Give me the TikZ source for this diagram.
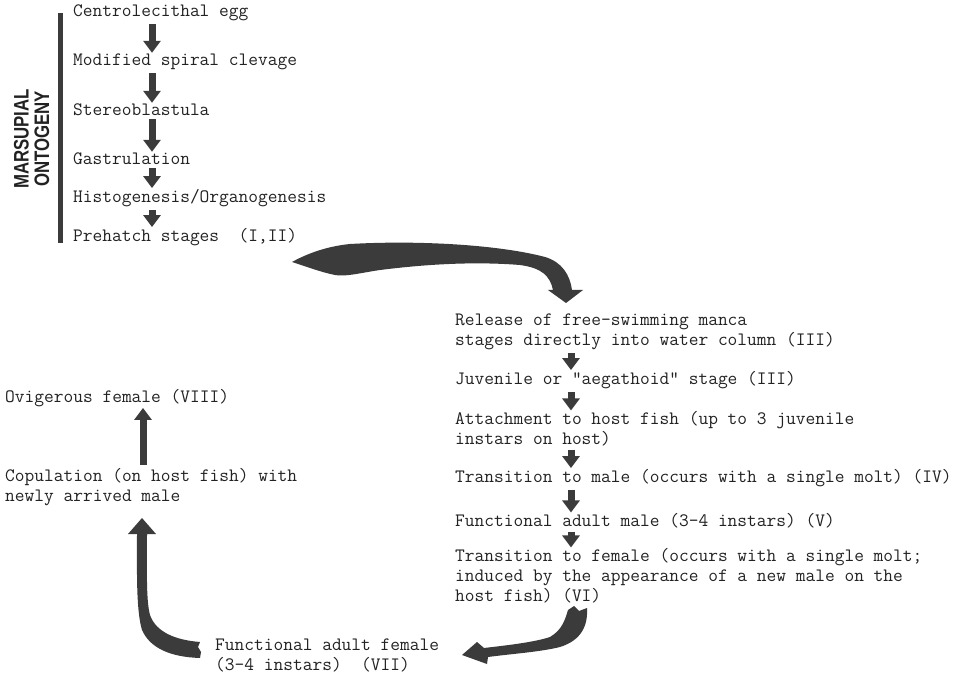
\documentclass[tikz,border=0pt]{standalone}
\usepackage{fontspec}
\usepackage{xcolor}
\usetikzlibrary{arrows.meta}
\newfontfamily\headfont{Liberation Sans}
\definecolor{ink}{HTML}{222222}
\definecolor{arrowgrey}{HTML}{3B3B3B}
\tikzset{
  stage/.style={anchor=west, align=left, inner sep=0pt, text=ink, font={\ttfamily\fontsize{18.9}{20}\selectfont}},
  stagearrow/.style={draw=arrowgrey, line width=7pt, -{Triangle[width=17pt,length=12pt]}, shorten <=3pt, shorten >=1pt},
  sidelabel/.style={rotate=90, xscale=0.8, inner sep=0pt, text=ink, font={\headfont\bfseries\fontsize{21}{21}\selectfont}},
}

\begin{document}
\begin{tikzpicture}[x=1pt,y=-1pt]
\useasboundingbox (0,0) rectangle (953,676);
\fill[white] (0,0) rectangle (953,676);
% marsupial ontogeny
\node[sidelabel] (marsupial) at (21.5,139) {MARSUPIAL};
\node[sidelabel] (ontogeny) at (42,139) {ONTOGENY};
\draw[arrowgrey,line width=5pt] (60.5,13) -- (60.5,243);
\node[stage] (egg) at (73,13) {Centrolecithal egg};
\node[stage] (cleavage) at (73,62) {Modified spiral clevage};
\node[stage] (blastula) at (73,110) {Stereoblastula};
\node[stage] (gastrula) at (73,159) {Gastrulation};
\node[stage] (organo) at (73,198) {Histogenesis/Organogenesis};
\node[stage] (prehatch) at (73,237) {Prehatch stages~~(I,II)};
% free living stages
\node[stage] (release) at (455,332) {Release of free–swimming manca\\stages directly into water column (III)};
\node[stage] (juvenile) at (455,380) {Juvenile or ”aegathoid” stage (III)};
\node[stage] (attach) at (455,429) {Attachment to host fish (up to 3 juvenile\\instars on host)};
\node[stage] (tomale) at (455,478) {Transition to male (occurs with a single molt) (IV)};
\node[stage] (male) at (455,521) {Functional adult male (3–4 instars) (V)};
\node[stage] (tofemale) at (455,576) {Transition to female (occurs with a single molt;\\induced by the appearance of a new male on the\\host fish) (VI)};
\node[stage] (female) at (215,655) {Functional adult female\\(3–4 instars)~~(VII)};
\node[stage] (copulation) at (5,487) {Copulation (on host fish) with\\newly arrived male};
\node[stage] (ovigerous) at (5,398) {Ovigerous female (VIII)};
% small arrows
\coordinate (leftaxis) at (152,0);
\coordinate (rightaxis) at (571,0);
\coordinate (femaleaxis) at (143,0);
\foreach \a/\b in {egg/cleavage,cleavage/blastula,blastula/gastrula,gastrula/organo,organo/prehatch}
  \draw[stagearrow] (\a.south -| leftaxis) -- (\b.north -| leftaxis);
\foreach \a/\b in {release/juvenile,juvenile/attach,attach/tomale,tomale/male,male/tofemale}
  \draw[stagearrow] (\a.south -| rightaxis) -- (\b.north -| rightaxis);
\draw[stagearrow] (copulation.north -| femaleaxis) -- (ovigerous.south -| femaleaxis);
% big arrows
\fill[arrowgrey] (292,262) .. controls (310,252) and (330,246) .. (350,244)
  .. controls (420,240) and (500,245) .. (545,257)
  .. controls (562,262) and (570,275) .. (572,290) -- (583,290) -- (566,303) -- (548,290) -- (553,290)
  .. controls (550,276) and (542,268) .. (520,265)
  .. controls (470,261) and (420,265) .. (380,270)
  .. controls (360,273) and (345,277) .. (335,275)
  .. controls (320,272) and (305,266) .. cycle;
\fill[arrowgrey] (568,610) -- (574,606) -- (579,611) -- (587,608)
  .. controls (588,625) and (582,640) .. (560,647)
  .. controls (540,652) and (510,654) .. (488,657) -- (487,664) -- (462,655) -- (477,642) -- (484,648)
  .. controls (510,645) and (535,642) .. (550,637)
  .. controls (562,630) and (565,620) .. cycle;
\fill[arrowgrey] (142,518) -- (156,534) -- (147,534)
  .. controls (147,570) and (146,600) .. (150,615)
  .. controls (156,632) and (175,640) .. (200,642) -- (198,647) -- (201,652) -- (200,658)
  .. controls (170,657) and (150,648) .. (142,630)
  .. controls (136,610) and (137,570) .. (137,534) -- (128,534) -- cycle;
\end{tikzpicture}
\end{document}
